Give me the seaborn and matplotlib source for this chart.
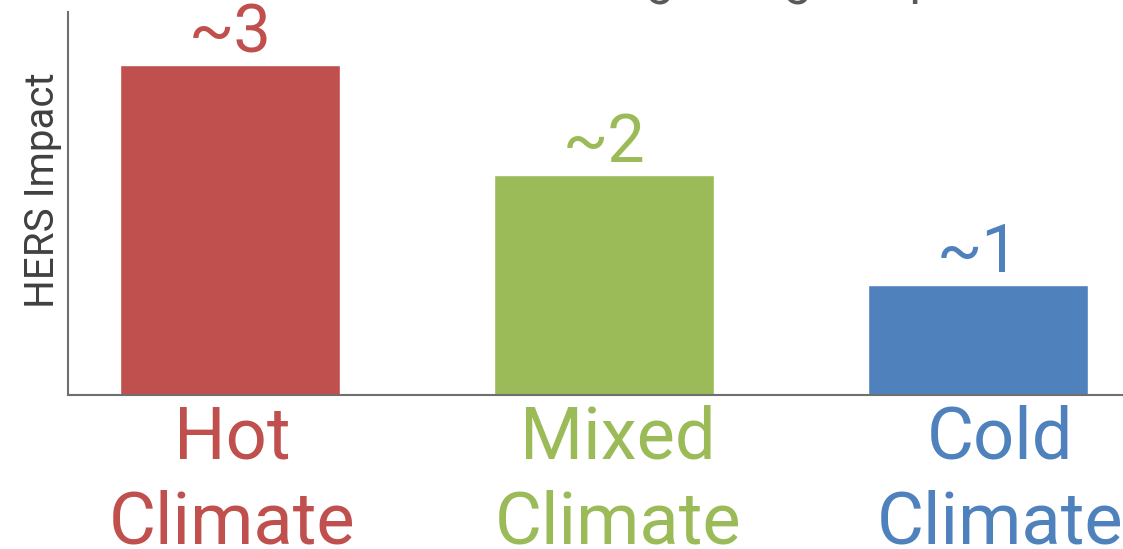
import matplotlib
matplotlib.use("Agg")
import matplotlib.pyplot as plt
import seaborn as sns
import pandas as pd

climates = ["Hot\nClimate", "Mixed\nClimate", "Cold\nClimate"]
impact = [3, 2, 1]
impact_labels = ["~3", "~2", "~1"]
colors = ["#C0504D", "#9BBB59", "#4F81BD"]
title = "Ceiling Design Impact"

# the category text boxes in the original sit slightly right of the bars
label_nudge_pt = [1.5, 10, 16]

sns.set_theme(style="white")
plt.rcParams["font.family"] = ["Roboto", "DejaVu Sans"]

df = pd.DataFrame({"climate": climates, "impact": impact})

fig = plt.figure(figsize=(11.23, 5.49), dpi=100)
ax = fig.add_axes([68 / 1123, 1 - 395 / 549, 1 - 68 / 1123, (395 - 12) / 549])

sns.barplot(data=df, x="climate", y="impact", hue="climate", palette=colors,
            width=0.59, legend=False, ax=ax, saturation=1)

ax.set_xlim(-0.433, 2.388)
ax.set_ylim(0, 3.48)

for i, (v, lab) in enumerate(zip(impact, impact_labels)):
    ax.annotate(lab, (i, v), xytext=(0, 9), textcoords="offset points",
                ha="center", va="baseline", fontsize=48, color=colors[i])

# category names drawn as annotations so they can be nudged
ax.set_xticks([])
ax.set_yticks([])
for i, (name, c, dx) in enumerate(zip(climates, colors, label_nudge_pt)):
    ax.annotate(name, (i, 0), xycoords=("data", "axes fraction"),
                xytext=(dx, -7), textcoords="offset points",
                ha="center", va="top", fontsize=52, color=c,
                linespacing=1.3, multialignment="center",
                annotation_clip=False)
ax.set_xlabel("")
ax.set_ylabel("HERS Impact", fontsize=29, color="#404040")
ax.yaxis.set_label_coords(-0.006, 0.535)

sns.despine(ax=ax)
for s in ["left", "bottom"]:
    ax.spines[s].set_color("#6f6f6f")
    ax.spines[s].set_linewidth(1.5)

# title sits mostly above the visible area, only descenders show
fig.text(523 / 1123, 1 + 7 / 549, title, ha="left", va="baseline",
         fontsize=36, color="#595959")

fig.savefig("out.png", dpi=100)
